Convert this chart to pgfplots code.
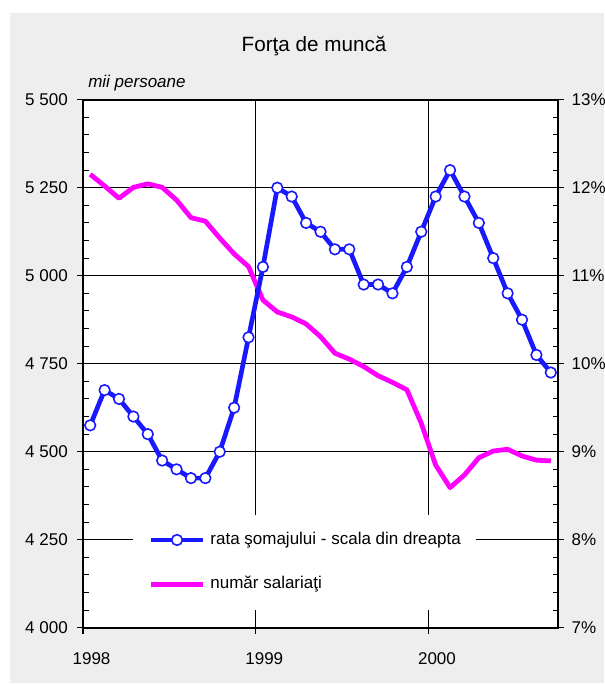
\documentclass[border=0pt]{standalone}
\usepackage{pgfplots}
\pgfplotsset{compat=1.18}
\usepackage{fontspec}
\setmainfont{Liberation Sans}
\definecolor{bg}{RGB}{238,238,238}
\definecolor{myblue}{RGB}{25,25,255}
\definecolor{mymag}{RGB}{255,0,255}
\begin{document}
\begin{tikzpicture}[x=1pt,y=1pt]
\path[use as bounding box, fill=white] (0,0) rectangle (453,513);
\fill[bg] (7.5,0.75) rectangle (453,503.25);
\node[anchor=base, inner sep=0pt, font=\fontsize{15.5}{18}\selectfont] at (235.5,474) {Forţa de muncă};
\node[anchor=base west, inner sep=0pt, font=\fontsize{12.75}{15}\selectfont\itshape] at (66,447) {mii persoane};
\begin{axis}[
  at={(62.25pt,42.2pt)}, anchor=south west,
  scale only axis, width=356.25pt, height=396pt,
  xmin=0, xmax=33, ymin=4000, ymax=5500,
  axis background/.style={fill=white},
  xtick={0,12,24}, xticklabels={1998,1999,2000},
  xtick pos=bottom, ytick pos=left,
  ytick={4000,4250,4500,4750,5000,5250,5500},
  yticklabels={4 000,4 250,4 500,4 750,5 000,5 250,5 500},
  minor y tick num=4,
  tick align=outside,
  major tick length=4.5pt, minor tick length=-4.3pt,
  xmajorgrids, ymajorgrids,
  grid style={black, line width=0.6pt},
  axis line style={black, line width=1.2pt},
  tick style={black, line width=0.8pt},
  every tick label/.append style={font=\fontsize{12.75}{15}\selectfont, text=black},
  yticklabel style={inner sep=0pt, xshift=-6.75pt},
  xticklabel style={inner sep=0pt, yshift=-13.7pt, xshift=6.4pt},
  legend style={at={(axis description cs:0.1053,0.0335)}, anchor=south west,
    draw=none, fill=white, inner xsep=11.5pt, inner ysep=12.6pt,
    row sep=21pt, column sep=3.75pt,
    nodes={inner sep=0pt, text height=9.5pt, text depth=3pt, font=\fontsize{12.75}{15}\selectfont}},
  legend cell align=left,
  legend image code/.code={\draw[mark repeat=2,mark phase=2,#1] plot coordinates {(0pt,0pt) (19.5pt,0pt) (39pt,0pt)};},
]
\addlegendimage{myblue, line width=3.5pt, mark=*, mark size=4pt, mark options={fill=white, draw=myblue, line width=1.2pt}}
\addlegendentry{rata şomajului - scala din dreapta}
\addplot[mymag, line width=3.6pt, line join=round] coordinates {
(0.5,5288) (1.5,5255) (2.5,5220) (3.5,5251) (4.5,5261) (5.5,5251) (6.5,5215) (7.5,5165) (8.5,5155) (9.5,5107) (10.5,5062) (11.5,5026)
(12.5,4931) (13.5,4897) (14.5,4883) (15.5,4863) (16.5,4827) (17.5,4780) (18.5,4763) (19.5,4742) (20.5,4716) (21.5,4697) (22.5,4676) (23.5,4581)
(24.5,4462) (25.5,4398) (26.5,4434) (27.5,4483) (28.5,4502) (29.5,4507) (30.5,4488) (31.5,4476) (32.5,4474)
};
\addlegendentry{număr salariaţi}
\end{axis}
\begin{axis}[
  at={(62.25pt,42.2pt)}, anchor=south west,
  scale only axis, width=356.25pt, height=396pt,
  xmin=0, xmax=33, ymin=7, ymax=13,
  axis x line=none, axis y line*=right,
  xtick=\empty,
  ytick={7,8,9,10,11,12,13},
  yticklabels={7\%,8\%,9\%,10\%,11\%,12\%,13\%},
  minor y tick num=4,
  tick align=inside,
  major tick length=-4.5pt, minor tick length=3.8pt,
  axis line style={black, line width=1.2pt, -},
  tick style={black, line width=0.8pt},
  every tick label/.append style={font=\fontsize{12.75}{15}\selectfont, text=black},
  yticklabel style={anchor=west, inner sep=0pt, xshift=10pt},
]
\addplot[myblue, line width=3.5pt, line join=round, mark=*, mark size=4pt, mark options={fill=white, draw=myblue, line width=1.2pt}] coordinates {
(0.5,9.3) (1.5,9.7) (2.5,9.6) (3.5,9.4) (4.5,9.2) (5.5,8.9) (6.5,8.8) (7.5,8.7) (8.5,8.7) (9.5,9.0) (10.5,9.5) (11.5,10.3)
(12.5,11.1) (13.5,12.0) (14.5,11.9) (15.5,11.6) (16.5,11.5) (17.5,11.3) (18.5,11.3) (19.5,10.9) (20.5,10.9) (21.5,10.8) (22.5,11.1) (23.5,11.5)
(24.5,11.9) (25.5,12.2) (26.5,11.9) (27.5,11.6) (28.5,11.2) (29.5,10.8) (30.5,10.5) (31.5,10.1) (32.5,9.9)
};
\end{axis}
\end{tikzpicture}
\end{document}
